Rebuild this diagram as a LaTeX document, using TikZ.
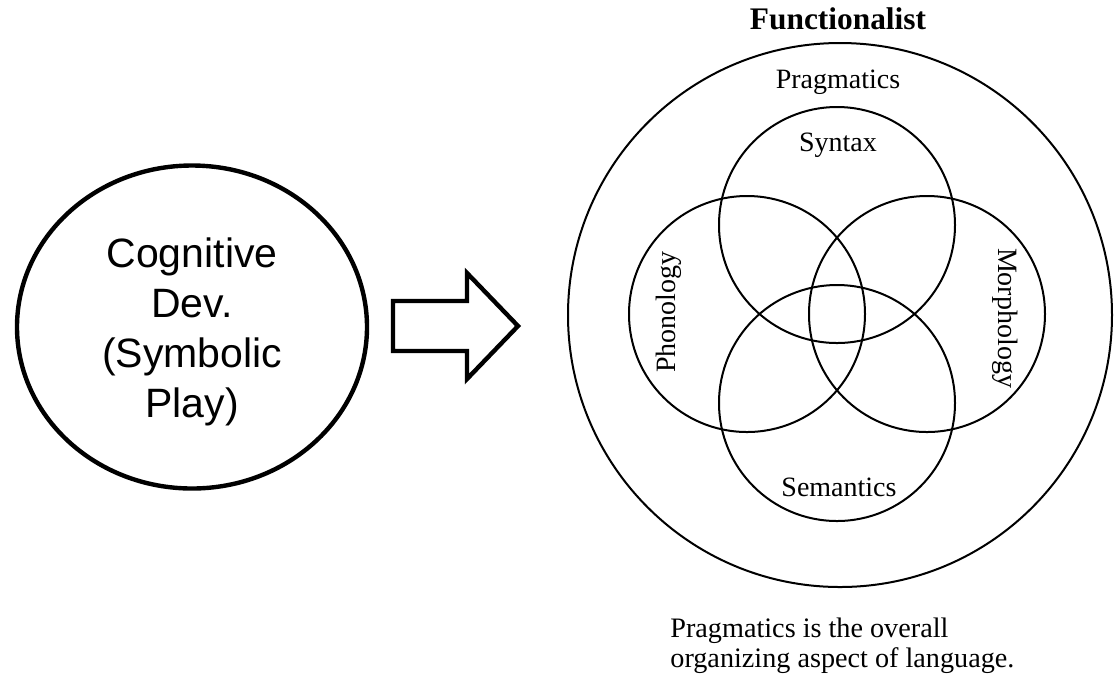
\documentclass[tikz,border=0pt]{standalone}
\usepackage{fontspec}
\setmainfont{Liberation Serif}
\newfontfamily\arialfont{Liberation Sans}
\usetikzlibrary{shapes.geometric}
\begin{document}
\begin{tikzpicture}[x=0.5pt,y=-0.5pt,
  ring/.style={circle, draw, line width=1pt, inner sep=0pt, minimum size=#1},
  lbl/.style={font=\fontsize{14}{16}\selectfont, inner sep=0pt, anchor=base},
  bigbox/.style={ellipse, draw, line width=2.2pt, inner sep=0pt,
    minimum width=175pt, minimum height=161.5pt},
  bigtext/.style={align=center, inner sep=0pt,
    font=\arialfont\fontsize{20.5}{25}\selectfont},
  blockarrow/.style={draw, line width=2.2pt, line join=miter, fill=white}]
\useasboundingbox (0,0) rectangle (1115,677);
% left ellipse
\node[bigbox] (cog) at (192,327) {};
\node[bigtext] (cogtext) at (cog.center) [yshift=-2.2pt] {Cognitive\\Dev.\\(Symbolic\\Play)};
% block arrow
\draw[blockarrow] (393,301) -- (467,301) -- (467,273) -- (518,326)
  -- (467,379) -- (467,351) -- (393,351) -- cycle;
% right diagram
\node[ring=272pt] (prag) at (840,315) {};
\node[ring=118pt] (syn) at (837,225) {};
\node[ring=118pt] (pho) at (747,314) {};
\node[ring=118pt] (mor) at (927,314) {};
\node[ring=118pt] (sem) at (837,403) {};
\node[lbl, font=\bfseries\fontsize{15.7}{17}\selectfont] (title) at (838,29) {Functionalist};
\node[lbl] (pragl) at (838,88) {Pragmatics};
\node[lbl] (synl) at (838,151) {Syntax};
\node[lbl] (seml) at (839,496) {Semantics};
\node[lbl, rotate=90] (phol) at (675,312) {Phonology};
\node[lbl, rotate=-90] (morl) at (998,318) {Morphology};
\node[lbl, anchor=base west, font=\fontsize{14.1}{16}\selectfont] (cap1) at (670,637) {Pragmatics is the overall};
\node[lbl, anchor=base west, font=\fontsize{14.1}{16}\selectfont] (cap2) at (670,667) {organizing aspect of language.};
\end{tikzpicture}
\end{document}
